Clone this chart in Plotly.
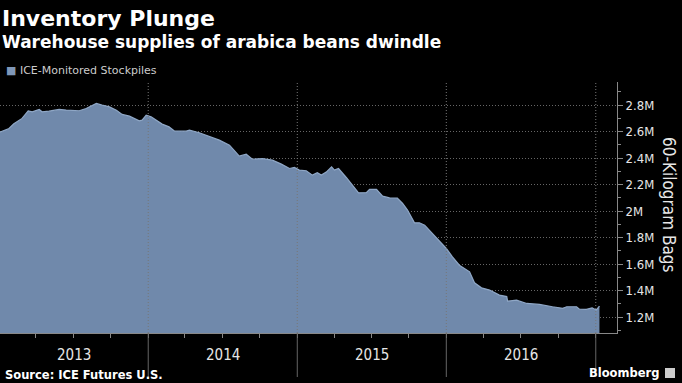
import plotly.graph_objects as go

dates = [
    "2013-01-01", "2013-01-25", "2013-02-06", "2013-02-26", "2013-03-13", "2013-03-23",
    "2013-04-09", "2013-04-16", "2013-05-03", "2013-05-28", "2013-06-14", "2013-07-16",
    "2013-08-02", "2013-08-27", "2013-09-10", "2013-09-28", "2013-10-15", "2013-10-29",
    "2013-11-16", "2013-12-10", "2013-12-17", "2013-12-27", "2014-01-08", "2014-01-21",
    "2014-02-04", "2014-02-21", "2014-03-06", "2014-04-04", "2014-04-12", "2014-05-06",
    "2014-05-31", "2014-06-24", "2014-07-19", "2014-07-31", "2014-08-12", "2014-08-29",
    "2014-09-13", "2014-10-08", "2014-11-01", "2014-11-23", "2014-12-13", "2014-12-25",
    "2015-01-06", "2015-01-23", "2015-02-07", "2015-02-19", "2015-03-01", "2015-03-13",
    "2015-03-26", "2015-04-02", "2015-04-12", "2015-05-01", "2015-05-16", "2015-05-31",
    "2015-06-19", "2015-06-27", "2015-07-14", "2015-07-29", "2015-08-15", "2015-09-03",
    "2015-09-16", "2015-09-28", "2015-10-15", "2015-10-27", "2015-11-09", "2015-11-28",
    "2015-12-15", "2016-01-01", "2016-01-16", "2016-02-02", "2016-02-27", "2016-03-10",
    "2016-03-27", "2016-04-16", "2016-05-10", "2016-05-28", "2016-05-30", "2016-06-21",
    "2016-07-16", "2016-08-16", "2016-09-17", "2016-10-12", "2016-10-22", "2016-11-15",
    "2016-11-22", "2016-12-09", "2016-12-23", "2017-01-02", "2017-01-10",
]
stockpiles_m = [
    2.594, 2.624, 2.660, 2.700, 2.757, 2.750,
    2.768, 2.750, 2.755, 2.768, 2.763, 2.758,
    2.775, 2.813, 2.800, 2.787, 2.762, 2.730,
    2.717, 2.682, 2.687, 2.725, 2.712, 2.687,
    2.657, 2.636, 2.606, 2.604, 2.611, 2.592,
    2.566, 2.536, 2.498, 2.460, 2.415, 2.430,
    2.392, 2.397, 2.385, 2.355, 2.322, 2.330,
    2.310, 2.305, 2.272, 2.290, 2.272, 2.295,
    2.334, 2.310, 2.322, 2.254, 2.196, 2.138,
    2.140, 2.164, 2.165, 2.113, 2.100, 2.098,
    2.058, 2.008, 1.912, 1.912, 1.894, 1.832,
    1.781, 1.718, 1.655, 1.592, 1.542, 1.459,
    1.421, 1.404, 1.366, 1.355, 1.321, 1.328,
    1.303, 1.296, 1.278, 1.266, 1.278, 1.278,
    1.260, 1.258, 1.270, 1.253, 1.283,
]
year_labels = ["2013", "2014", "2015", "2016"]
year_mid = ["2013-07-02", "2014-07-02", "2015-07-02", "2016-07-01"]
year_bounds = ["2014-01-01", "2015-01-01", "2016-01-01", "2017-01-01"]
y_ticks = [1.2, 1.4, 1.6, 1.8, 2.0, 2.2, 2.4, 2.6, 2.8]
y_tick_text = ["1.2M", "1.4M", "1.6M", "1.8M", "2M", "2.2M", "2.4M", "2.6M", "2.8M"]

FILL = "#7089AB"
FONT = "DejaVu Sans"
COND = "DejaVu Sans Condensed, DejaVu Sans"
TXT = "#e6e6e6"
DOTS = "1px,2px"

W, H = 682, 383
L, R, T, B = 0, 65, 82, 50
PW, PH = W - L - R, H - T - B


def px(x):
    return (x - L) / PW


def py(y):
    return (H - B - y) / PH


fig = go.Figure()
fig.add_trace(go.Scatter(
    x=dates, y=[v * 1e6 for v in stockpiles_m],
    mode="lines", fill="tozeroy", fillcolor=FILL,
    line=dict(color="#8fa7c6", width=1.2), showlegend=False,
    hoverinfo="skip",
))

shapes = []
for d in year_bounds:
    shapes.append(dict(type="line", xref="x", yref="paper", x0=d, x1=d, y0=0, y1=1,
                       line=dict(color="#777777", width=1, dash=DOTS), layer="above"))
    shapes.append(dict(type="line", xref="x", yref="paper", x0=d, x1=d, y0=0, y1=py(377),
                       line=dict(color="#666666", width=1)))
# Bloomberg logo box
shapes.append(dict(type="rect", xref="paper", yref="paper",
                   x0=px(665), x1=px(675), y0=py(378), y1=py(368),
                   line=dict(width=0), fillcolor="#cccccc"))

annotations = [
    dict(text="<b>Inventory Plunge</b>", x=px(0), y=py(18), xanchor="left", yanchor="middle",
         font=dict(size=22, color="white", family=FONT)),
    dict(text="<b>Warehouse supplies of arabica beans dwindle</b>", x=px(0), y=py(42),
         xanchor="left", yanchor="middle", font=dict(size=17, color="white", family=FONT)),
    dict(text='<span style="color:#7f97b8">■</span> ICE-Monitored Stockpiles', x=px(4), y=py(70),
         xanchor="left", yanchor="middle", font=dict(size=11, color="#cccccc", family=FONT)),
    dict(text="<b>Source: ICE Futures U.S.</b>", x=px(3), y=py(375), xanchor="left",
         yanchor="middle", font=dict(size=11.5, color="white", family=FONT)),
    dict(text="<b>Bloomberg</b>", x=px(661), y=py(373), xanchor="right", yanchor="middle",
         font=dict(size=11.5, color="white", family=FONT)),
    dict(text="60-Kilogram Bags", x=px(669), y=py(205), textangle=90, xanchor="center",
         yanchor="middle", font=dict(size=17, color=TXT, family=COND)),
]
for lab, mid in zip(year_labels, year_mid):
    annotations.append(dict(text=lab, xref="x", x=mid, y=py(355), yanchor="middle",
                            font=dict(size=15, color=TXT, family=COND)))
for a in annotations:
    a.setdefault("xref", "paper")
    a.setdefault("yref", "paper")
    a["showarrow"] = False

fig.update_layout(
    width=W, height=H,
    margin=dict(l=L, r=R, t=T, b=B),
    paper_bgcolor="black", plot_bgcolor="black",
    font=dict(family=FONT, color=TXT),
    shapes=shapes, annotations=annotations,
    xaxis=dict(
        type="date", range=["2013-01-03", "2017-02-22"],
        showgrid=False, zeroline=False, showticklabels=False,
        showline=True, linecolor="#888888", linewidth=1,
        tickmode="array", tickvals=[], ticks="",
        minor=dict(ticks="outside", ticklen=4, tickcolor="#888888", dtick="M3",
                   tick0="2013-01-01", showgrid=False),
    ),
    yaxis=dict(
        side="right", range=[1.08e6, 2.975e6],
        tickmode="array", tickvals=[v * 1e6 for v in y_ticks], ticktext=y_tick_text,
        ticks="outside", ticklen=5, tickcolor="#888888",
        showgrid=True, gridcolor="#666666", griddash=DOTS, gridwidth=1,
        zeroline=False, showline=True, linecolor="#888888", linewidth=1,
        tickfont=dict(size=13, color=TXT, family=COND),
        minor=dict(ticks="outside", ticklen=3, tickcolor="#888888", dtick=1e5,
                   tick0=0, showgrid=False),
    ),
)

fig.write_html("out.html", config={"displayModeBar": False},
               post_script="document.body.style.margin='0px';")
